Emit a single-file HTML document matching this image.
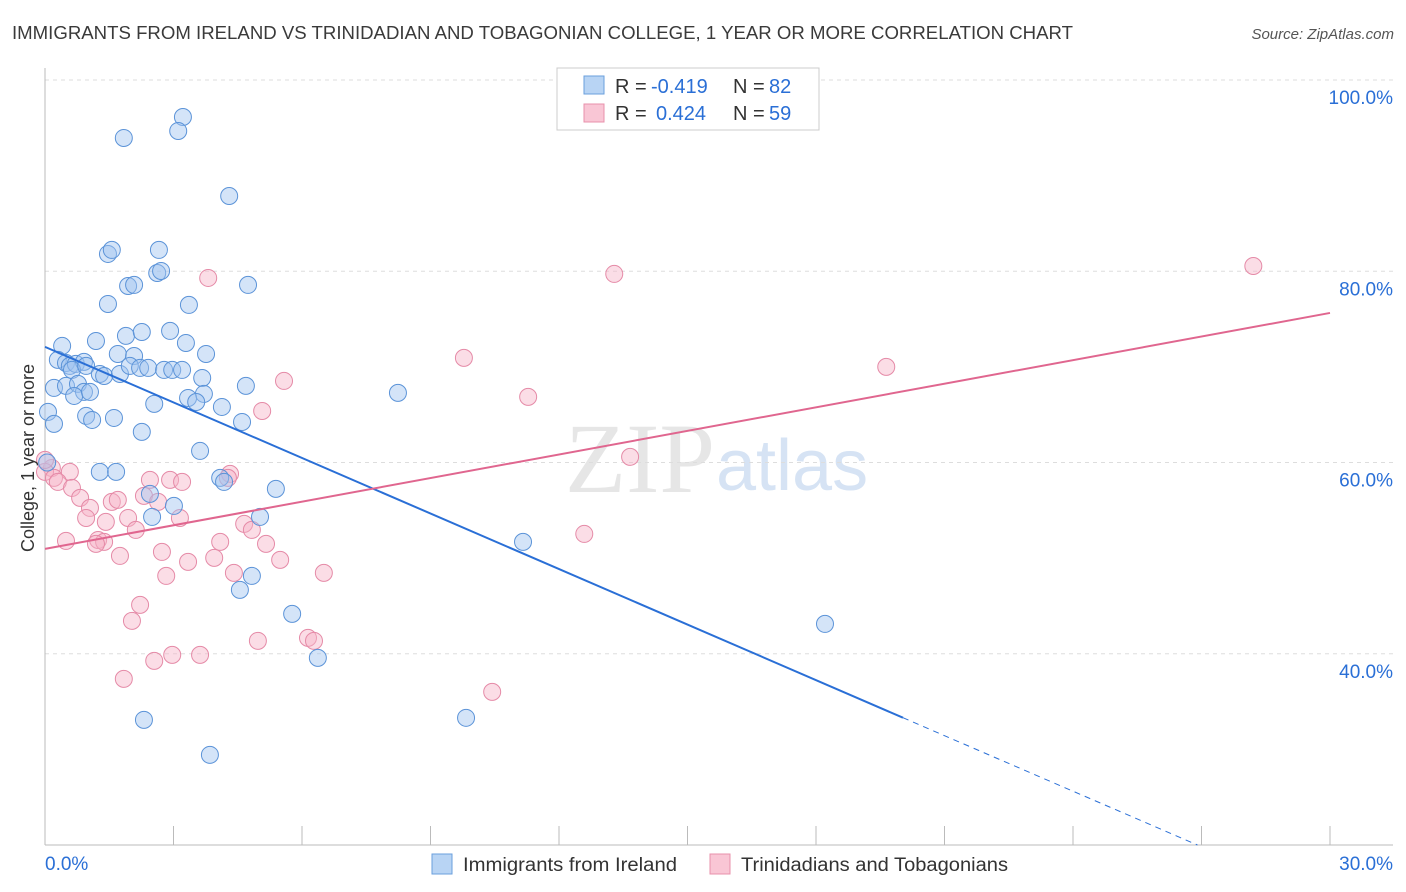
<!DOCTYPE html>
<html><head><meta charset="utf-8"><style>
body{margin:0;background:#fff;font-family:"Liberation Sans",sans-serif;}
svg{display:block}
</style></head><body>
<svg id="c" width="1406" height="892" xmlns="http://www.w3.org/2000/svg">
<text x="12" y="39" font-size="18.5" fill="#3a3a3a" textLength="1061" lengthAdjust="spacingAndGlyphs">IMMIGRANTS FROM IRELAND VS TRINIDADIAN AND TOBAGONIAN COLLEGE, 1 YEAR OR MORE CORRELATION CHART</text>
<text x="1394" y="39" font-size="15" fill="#555" font-style="italic" text-anchor="end">Source: ZipAtlas.com</text>
<text x="715" y="492" font-size="100" fill="#e6e6e6" text-anchor="end" font-family="Liberation Serif,serif">ZIP</text>
<text x="716" y="490" font-size="72" fill="#d6e3f4">atlas</text>
<g id="grid"></g><g id="marks"></g>
<text transform="translate(34,458) rotate(-90)" font-size="18" fill="#333" text-anchor="middle">College, 1 year or more</text>
<g>
<rect x="557" y="68" width="262" height="62" fill="#fff" stroke="#ccc"/>
<rect x="584" y="76" width="20" height="18" fill="#b8d4f4" stroke="#6a9fdd"/>
<rect x="584" y="104" width="20" height="18" fill="#f9c6d5" stroke="#e890ab"/>
<text y="93" font-size="20" fill="#333"><tspan x="615">R =</tspan><tspan x="651" fill="#2a6fd6">-0.419</tspan><tspan x="733">N =</tspan><tspan x="769" fill="#2a6fd6">82</tspan></text>
<text y="120" font-size="20" fill="#333"><tspan x="615">R =</tspan><tspan x="656" fill="#2a6fd6">0.424</tspan><tspan x="733">N =</tspan><tspan x="769" fill="#2a6fd6">59</tspan></text>
</g>
<g>
<rect x="432" y="854" width="20" height="20" fill="#b8d4f4" stroke="#6a9fdd"/>
<text x="463" y="871" font-size="19" fill="#333" textLength="214" lengthAdjust="spacingAndGlyphs">Immigrants from Ireland</text>
<rect x="710" y="854" width="20" height="20" fill="#f9c6d5" stroke="#e890ab"/>
<text x="741" y="871" font-size="19" fill="#333" textLength="267" lengthAdjust="spacingAndGlyphs">Trinidadians and Tobagonians</text>
</g>
</svg>
<script>
const yTicks=[40,60,80,100];
const xTickLabels=["0.0%","30.0%"];
const blueX=[1.84,3.22,3.11,4.30,1.47,1.56,2.66,2.62,2.71,1.94,2.08,4.74,1.47,3.36,1.89,2.26,2.92,1.19,0.40,3.29,1.70,2.08,3.76,0.30,0.49,0.58,0.72,0.91,0.63,0.96,1.28,1.38,1.75,1.98,2.22,2.41,2.78,2.97,3.20,3.67,0.21,0.49,0.77,0.91,0.68,1.05,4.69,8.24,3.71,3.34,3.53,2.55,4.13,0.07,0.21,0.96,1.10,1.61,2.26,4.60,3.62,1.28,1.66,4.09,4.18,5.39,2.45,3.01,2.50,5.02,11.16,4.83,4.55,5.77,18.21,6.37,2.31,9.83,3.85,0.05];
const blueY=[93.94,96.13,94.67,87.87,81.81,82.23,82.23,79.82,80.03,78.46,78.57,78.57,76.58,76.48,73.24,73.65,73.76,72.71,72.19,72.50,71.35,71.14,71.35,70.73,70.41,70.10,70.31,70.52,69.68,70.10,69.26,69.05,69.26,70.10,69.89,69.89,69.68,69.68,69.68,68.84,67.80,68.01,68.22,67.38,66.96,67.38,68.01,67.28,67.17,66.75,66.33,66.13,65.81,65.29,64.04,64.87,64.45,64.66,63.20,64.24,61.21,59.02,59.02,58.39,57.97,57.24,56.72,55.46,54.31,54.31,51.70,48.14,46.68,44.17,43.12,39.57,33.09,33.30,29.43,60.0];
const pinkX=[13.29,28.21,3.81,9.78,19.64,5.58,11.28,5.07,13.66,0.16,0,0.21,0.58,0.30,0.63,0.82,1.05,0.96,1.42,1.56,1.70,1.94,2.45,2.92,3.20,2.31,2.64,3.15,2.12,1.24,1.38,0.49,1.19,4.09,5.16,4.65,4.83,4.32,4.27,1.75,2.73,3.34,3.95,5.49,6.51,2.83,4.41,2.22,2.03,4.97,6.14,6.28,2.97,3.62,2.55,1.84,10.44,12.59,0];
const pinkY=[79.72,80.55,79.30,70.94,70.00,68.53,66.86,65.39,60.59,59.43,59.02,58.39,59.02,57.97,57.34,56.30,55.25,54.20,53.79,55.88,56.09,54.20,58.18,58.18,57.97,56.51,55.88,54.20,52.95,51.90,51.70,51.80,51.49,51.70,51.49,53.58,52.95,58.81,58.39,50.23,50.65,49.61,50.03,49.82,48.46,48.14,48.46,45.11,43.44,41.35,41.66,41.35,39.88,39.88,39.26,37.37,36.01,52.53,60.27];
const blueTrend=[72.09,-1.936]; // intercept, slope per %
const pinkTrend=[50.97,0.8223];
const blueSolidEnd=20.03;
const X0=45,X1=1330,YT=80,YB=845;
const sx=v=>X0+(v/30)*(X1-X0);
const sy=v=>YT+(100-v)/80*(YB-YT);
const NS="http://www.w3.org/2000/svg";
function mk(t,a,p){const e=document.createElementNS(NS,t);for(const k in a)e.setAttribute(k,a[k]);p.appendChild(e);return e;}
const grid=document.getElementById('grid'),marks=document.getElementById('marks');
yTicks.forEach(t=>{
 const l=mk('line',{x1:45,x2:1393,y1:sy(t),y2:sy(t),stroke:'#ddd','stroke-dasharray':'4,4'},grid);
 
 
 const tx=mk('text',{x:1393,y:sy(t)+24,'font-size':19,fill:'#2a6fd6','text-anchor':'end'},grid);
 tx.textContent=t.toFixed(1)+'%';
 
 
});
const ax=mk('line',{x1:45,x2:1393,y1:845,y2:845,stroke:'#bbb'},grid);


const ay=mk('line',{x1:45,x2:45,y1:68,y2:845,stroke:'#bbb'},grid);


for(let i=0;i<=10;i++){const t=mk('line',{x1:sx(i*3),x2:sx(i*3),y1:826,y2:845,stroke:'#bbb'},grid);
 
 }
[[0,'start'],[30,'end']].forEach((p,i)=>{const t=mk('text',{x:i?1393:45,y:870,'font-size':19,fill:'#2a6fd6','text-anchor':p[1]},grid);t.textContent=xTickLabels[i];
 
 });
function pts(xs,ys,fill,stroke,name){xs.forEach((x,i)=>{const c=mk('circle',{cx:sx(x),cy:sy(ys[i]),r:8.5,fill:fill,'fill-opacity':0.45,stroke:stroke,'stroke-width':1},marks);
 
 });}
pts(pinkX,pinkY,'#f6b3c8','#e58aa7','point-trinidad');
pts(blueX,blueY,'#9fc4ef','#5b93d8','point-ireland');
const bl=mk('line',{x1:sx(0),y1:sy(blueTrend[0]),x2:sx(blueSolidEnd),y2:sy(blueTrend[0]+blueTrend[1]*blueSolidEnd),stroke:'#2a6fd6','stroke-width':2},marks);


const xe=(20-blueTrend[0])/blueTrend[1];
const bd=mk('line',{x1:sx(blueSolidEnd),y1:sy(blueTrend[0]+blueTrend[1]*blueSolidEnd),x2:sx(xe),y2:sy(20),stroke:'#2a6fd6','stroke-width':1,'stroke-dasharray':'6,5'},marks);


const pl=mk('line',{x1:sx(0),y1:sy(pinkTrend[0]),x2:sx(30),y2:sy(pinkTrend[0]+pinkTrend[1]*30),stroke:'#e0668f','stroke-width':2},marks);


</script>
</body></html>
